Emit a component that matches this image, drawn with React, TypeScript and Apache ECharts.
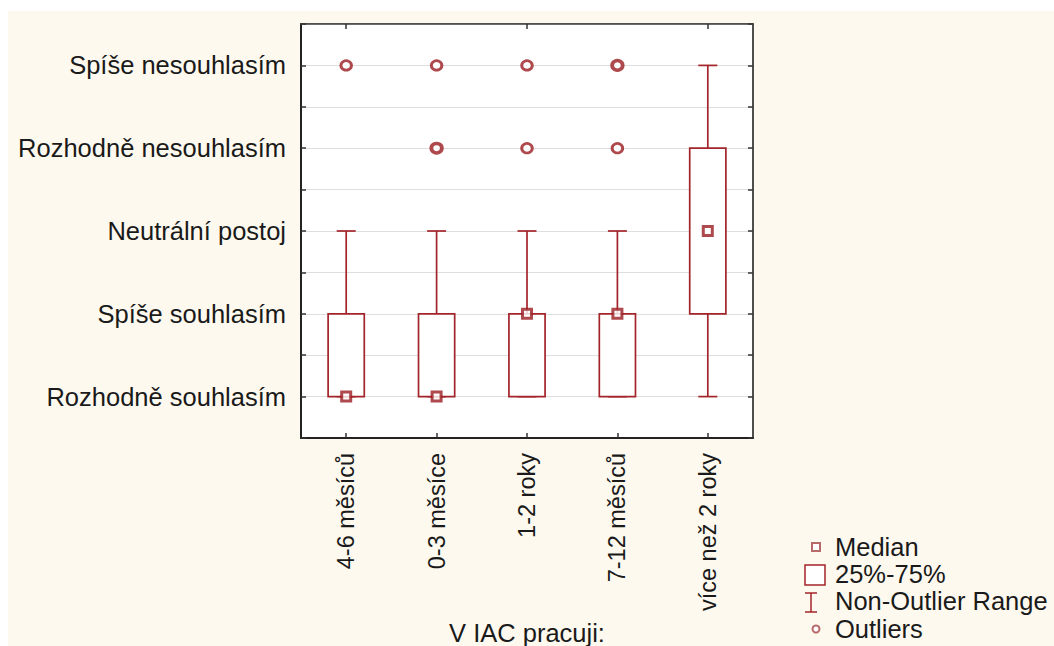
import React, { useEffect, useRef } from "react";
import * as echarts from "echarts";

const categories = ["4-6 měsíců", "0-3 měsíce", "1-2 roky", "7-12 měsíců", "více než 2 roky"];
const levels = [
  "Rozhodně souhlasím",
  "Spíše souhlasím",
  "Neutrální postoj",
  "Rozhodně nesouhlasím",
  "Spíše nesouhlasím",
];
const whiskerLow = [1, 1, 1, 1, 1];
const q1 = [1, 1, 1, 1, 2];
const medians = [1, 1, 2, 2, 3];
const q3 = [2, 2, 2, 2, 4];
const whiskerHigh = [3, 3, 3, 3, 5];
const outlierGroup = [0, 1, 1, 2, 2, 3, 3];
const outlierValue = [5, 4, 5, 4, 5, 4, 5];
const outlierCount = [1, 2, 1, 1, 1, 1, 2];

const legendLabels = ["Median", "25%-75%", "Non-Outlier Range", "Outliers"];
const axisTitle = "V IAC pracuji:";

const RED = "#a3242a";
const RED_DARK = "#9a1b20";
const RED_LIGHT = "#b86a6a";
const TEXT = "#1a1a1a";
const FONT = "'Liberation Sans', Arial, sans-serif";

export default function App() {
  const ref = useRef<HTMLDivElement>(null);

  useEffect(() => {
    if (!ref.current) return;
    const chart = echarts.init(ref.current, null, { renderer: "svg" });

    const boxData = categories.map((_, i) => [i, whiskerLow[i], q1[i], medians[i], q3[i], whiskerHigh[i]]);
    const medianData = categories.map((_, i) => [i, medians[i]]);
    const outlierData = outlierGroup.map((g, i) => ({
      value: [g, outlierValue[i]],
      itemStyle: { borderWidth: outlierCount[i] > 1 ? 3.6 : 2.8 },
    }));

    const yLabel = (v: number) => {
      if (Number.isInteger(v) && v >= 1 && v <= levels.length) return levels[v - 1];
      return "";
    };

    const lx = 835;
    const legendY = [547, 574, 601, 629];

    const option: any = {
      animation: false,
      backgroundColor: "transparent",
      textStyle: { fontFamily: FONT },
      grid: {
        left: 301,
        right: 301,
        top: 24,
        bottom: 208,
        show: true,
        backgroundColor: "#ffffff",
        borderColor: "#444",
        borderWidth: 1.5,
        outerBoundsMode: "none",
        containLabel: false,
      },
      xAxis: [
        {
          type: "category",
          data: categories,
          boundaryGap: true,
          position: "bottom",
          axisLine: { show: true, lineStyle: { color: "#222", width: 2 } },
          axisTick: { show: true, inside: true, alignWithLabel: true, length: 5, lineStyle: { color: "#333", width: 1.5 } },
          axisLabel: {
            rotate: 90,
            fontSize: 23.5,
            margin: 15,
            color: TEXT,
            fontFamily: FONT,
            interval: 0,
          },
          splitLine: { show: false },
        },
        {
          type: "category",
          data: categories,
          boundaryGap: true,
          position: "top",
          axisLine: { show: true, lineStyle: { color: "#444", width: 1.5 } },
          axisTick: { show: true, inside: true, alignWithLabel: true, length: 5, lineStyle: { color: "#333", width: 1.5 } },
          axisLabel: { show: false },
          splitLine: { show: false },
        },
      ],
      yAxis: [
        {
          type: "value",
          min: 0.5,
          max: 5.5,
          interval: 0.5,
          position: "left",
          axisLine: { show: true, lineStyle: { color: "#222", width: 2 } },
          axisTick: { show: true, inside: true, length: 5, lineStyle: { color: "#333", width: 1.5 } },
          axisLabel: {
            formatter: yLabel,
            fontSize: 25.5,
            margin: 15,
            color: TEXT,
            fontFamily: FONT,
          },
          splitLine: { show: true, lineStyle: { color: "#dedede", width: 1.2 } },
        },
        {
          type: "value",
          min: 0.5,
          max: 5.5,
          interval: 0.5,
          position: "right",
          axisLine: { show: true, lineStyle: { color: "#444", width: 1.5 } },
          axisTick: { show: true, inside: true, length: 5, lineStyle: { color: "#333", width: 1.5 } },
          axisLabel: { show: false },
          splitLine: { show: false },
        },
      ],
      series: [
        {
          type: "custom",
          xAxisIndex: 0,
          yAxisIndex: 0,
          data: boxData,
          encode: { x: 0, y: [1, 2, 3, 4, 5] },
          z: 2,
          renderItem: (params: any, api: any) => {
            const i = api.value(0);
            const pLo = api.coord([i, api.value(1)]);
            const pQ1 = api.coord([i, api.value(2)]);
            const pQ3 = api.coord([i, api.value(4)]);
            const pHi = api.coord([i, api.value(5)]);
            const band = api.size([1, 0])[0];
            const bw = band * 0.4;
            const cw = band * 0.21;
            const x = pQ1[0];
            const stroke = { stroke: RED, lineWidth: 1.7, fill: "none" };
            return {
              type: "group",
              children: [
                { type: "line", shape: { x1: x, y1: pHi[1], x2: x, y2: pQ3[1] }, style: stroke },
                { type: "line", shape: { x1: x, y1: pQ1[1], x2: x, y2: pLo[1] }, style: stroke },
                { type: "line", shape: { x1: x - cw / 2, y1: pHi[1], x2: x + cw / 2, y2: pHi[1] }, style: stroke },
                { type: "line", shape: { x1: x - cw / 2, y1: pLo[1], x2: x + cw / 2, y2: pLo[1] }, style: stroke },
                {
                  type: "rect",
                  shape: { x: x - bw / 2, y: pQ3[1], width: bw, height: pQ1[1] - pQ3[1] },
                  style: { stroke: RED, lineWidth: 1.7, fill: "#ffffff" },
                },
              ],
            };
          },
        },
        {
          type: "scatter",
          xAxisIndex: 0,
          yAxisIndex: 0,
          data: medianData,
          symbol: "rect",
          symbolSize: 9,
          z: 3,
          itemStyle: { color: "#ffffff", borderColor: RED_DARK, borderWidth: 3 },
        },
        {
          type: "scatter",
          xAxisIndex: 0,
          yAxisIndex: 0,
          data: outlierData,
          symbol: "circle",
          symbolSize: [10.5, 9.5],
          z: 3,
          itemStyle: { color: "#ffffff", borderColor: RED_DARK, borderWidth: 2.8 },
        },
      ],
      graphic: [
        {
          type: "rect",
          z: -10,
          silent: true,
          shape: { x: 8, y: 11, width: 1046, height: 635 },
          style: { fill: "#fdf9ef" },
        },
        {
          type: "text",
          x: 527,
          y: 633,
          style: {
            text: axisTitle,
            font: `25.5px ${FONT}`,
            fill: TEXT,
            align: "center",
            verticalAlign: "middle",
          },
        },
        {
          type: "rect",
          shape: { x: 812, y: legendY[0] - 4, width: 8, height: 8 },
          style: { fill: "#ffffff", stroke: RED_LIGHT, lineWidth: 2 },
        },
        {
          type: "rect",
          shape: { x: 805, y: 565, width: 20, height: 20 },
          style: { fill: "#ffffff", stroke: RED, lineWidth: 1.5 },
        },
        {
          type: "line",
          shape: { x1: 811, y1: 593, x2: 811, y2: 612 },
          style: { stroke: RED, lineWidth: 1.5 },
        },
        {
          type: "line",
          shape: { x1: 805, y1: 593, x2: 817, y2: 593 },
          style: { stroke: RED, lineWidth: 1.5 },
        },
        {
          type: "line",
          shape: { x1: 805, y1: 612, x2: 817, y2: 612 },
          style: { stroke: RED, lineWidth: 1.5 },
        },
        {
          type: "circle",
          shape: { cx: 816, cy: legendY[3], r: 3.5 },
          style: { fill: "#ffffff", stroke: RED_LIGHT, lineWidth: 2 },
        },
        ...legendLabels.map((t, i) => ({
          type: "text",
          x: lx,
          y: legendY[i],
          style: {
            text: t,
            font: `25.5px ${FONT}`,
            fill: TEXT,
            align: "left",
            verticalAlign: "middle",
          },
        })),
      ],
    };

    chart.setOption(option);
    return () => chart.dispose();
  }, []);

  return (
    <div
      ref={ref}
      style={{ position: "absolute", left: 0, top: 0, width: 1054, height: 646, background: "#ffffff" }}
    />
  );
}
